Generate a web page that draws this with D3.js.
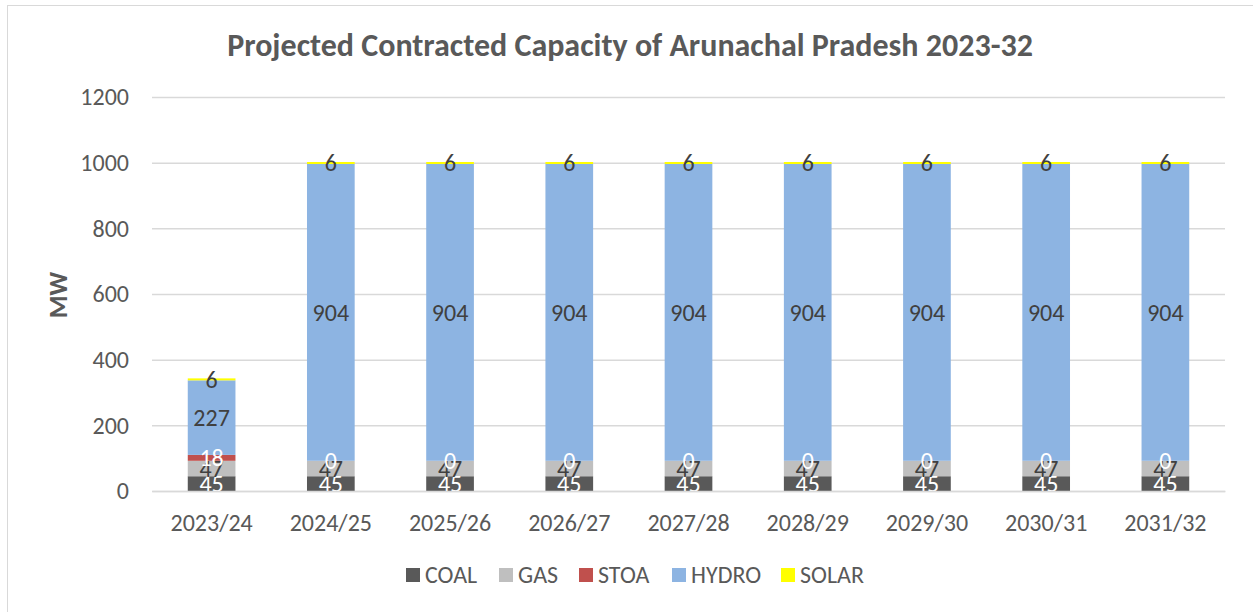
<!DOCTYPE html>
<html>
<head>
<meta charset="utf-8">
<script src="https://d3js.org/d3.v7.min.js"></script>
<style>
  body { margin: 0; background: #fff; }
  svg text { font-family: Carlito, Lato, "Open Sans", "Liberation Sans", sans-serif; fill: #595959; }
</style>
</head>
<body>
<div id="chart"></div>
<script>
// data
var years = ["2023/24", "2024/25", "2025/26", "2026/27", "2027/28", "2028/29", "2029/30", "2030/31", "2031/32"];
var coal  = [45, 45, 45, 45, 45, 45, 45, 45, 45];
var gas   = [47, 47, 47, 47, 47, 47, 47, 47, 47];
var stoa  = [18, 0, 0, 0, 0, 0, 0, 0, 0];
var hydro = [227, 904, 904, 904, 904, 904, 904, 904, 904];
var solar = [6, 6, 6, 6, 6, 6, 6, 6, 6];
var yTicks = [0, 200, 400, 600, 800, 1000, 1200];

var seriesNames = ["COAL", "GAS", "STOA", "HYDRO", "SOLAR"];
var seriesVals = [coal, gas, stoa, hydro, solar];
var colors = ["#595959", "#bfbfbf", "#c0504d", "#8db4e2", "#ffff00"];
var labelColors = ["#ffffff", "#404040", "#ffffff", "#404040", "#404040"];

var W = 1253, H = 612;
var margin = {top: 97, right: 28, bottom: 121, left: 152};
var width = W - margin.left - margin.right,
    height = H - margin.top - margin.bottom;

// build table for stack
var table = years.map(function(y, i) {
  var row = {year: y};
  seriesNames.forEach(function(s, k) { row[s] = seriesVals[k][i]; });
  return row;
});
var stacked = d3.stack().keys(seriesNames)(table);

var svg = d3.select("#chart").append("svg")
    .attr("width", W).attr("height", H);

// chart frame
svg.append("rect")
    .attr("x", 7.5).attr("y", 5.5)
    .attr("width", W).attr("height", H)
    .attr("fill", "none").attr("stroke", "#d9d9d9");

var g = svg.append("g")
    .attr("transform", "translate(" + margin.left + "," + margin.top + ")");

var x = d3.scaleBand().domain(years).range([0, width])
    .paddingInner(0.6).paddingOuter(0.3);
var y = d3.scaleLinear().domain([0, 1200]).range([height, 0]);

// gridlines
g.append("g")
  .call(d3.axisLeft(y).tickValues(yTicks).tickSize(-width).tickFormat(""))
  .call(function(a) {
    a.select(".domain").remove();
    a.selectAll("line").attr("stroke", "#d9d9d9").attr("stroke-width", 1.5);
  });

// y tick labels
g.append("g")
  .call(d3.axisLeft(y).tickValues(yTicks).tickSize(0).tickPadding(23).tickFormat(d3.format("d")))
  .call(function(a) {
    a.select(".domain").remove();
    a.selectAll("text").style("font-size", "24px").attr("fill", "#595959");
  });

// bars
var layer = g.selectAll(".layer")
  .data(stacked).enter().append("g")
    .attr("class", "layer")
    .attr("fill", function(d, i) { return colors[i]; });

layer.selectAll("rect")
  .data(function(d) { return d; })
  .enter().append("rect")
    .attr("x", function(d) { return x(d.data.year); })
    .attr("width", x.bandwidth())
    .attr("y", function(d) { return y(d[1]); })
    .attr("height", function(d) { return y(d[0]) - y(d[1]); });

// data labels
stacked.forEach(function(s, k) {
  g.append("g").selectAll("text")
    .data(s).enter().append("text")
      .attr("x", function(d) { return x(d.data.year) + x.bandwidth() / 2; })
      .attr("y", function(d) { return (y(d[0]) + y(d[1])) / 2; })
      .attr("dy", "0.35em")
      .attr("text-anchor", "middle")
      .style("font-size", "24px")
      .style("fill", labelColors[k])
      .text(function(d) { return d[1] - d[0]; });
});

// x axis
g.append("g")
  .attr("transform", "translate(0," + height + ")")
  .call(d3.axisBottom(x).tickSize(0).tickPadding(23))
  .call(function(a) {
    a.select(".domain").attr("stroke", "#d9d9d9").attr("stroke-width", 1.5);
    a.selectAll("text").style("font-size", "24px").attr("fill", "#595959");
  });

// title
svg.append("text")
    .attr("x", 630).attr("y", 56)
    .attr("text-anchor", "middle")
    .style("font-size", "32px").style("font-weight", "bold")
    .text("Projected Contracted Capacity of Arunachal Pradesh 2023-32");

// y axis title
svg.append("text")
    .attr("transform", "translate(67,295) rotate(-90)")
    .attr("text-anchor", "middle")
    .style("font-size", "26px").style("font-weight", "bold")
    .text("MW");

// legend
var legendX = [406, 499, 579, 672, 781];
var legend = svg.append("g").attr("transform", "translate(0,575)");
seriesNames.forEach(function(s, i) {
  legend.append("rect")
    .attr("x", legendX[i]).attr("y", -7)
    .attr("width", 14).attr("height", 14)
    .attr("fill", colors[i]);
  legend.append("text")
    .attr("x", legendX[i] + 19).attr("y", 0)
    .attr("dy", "0.35em")
    .style("font-size", "24px")
    .text(s);
});
</script>
</body>
</html>
